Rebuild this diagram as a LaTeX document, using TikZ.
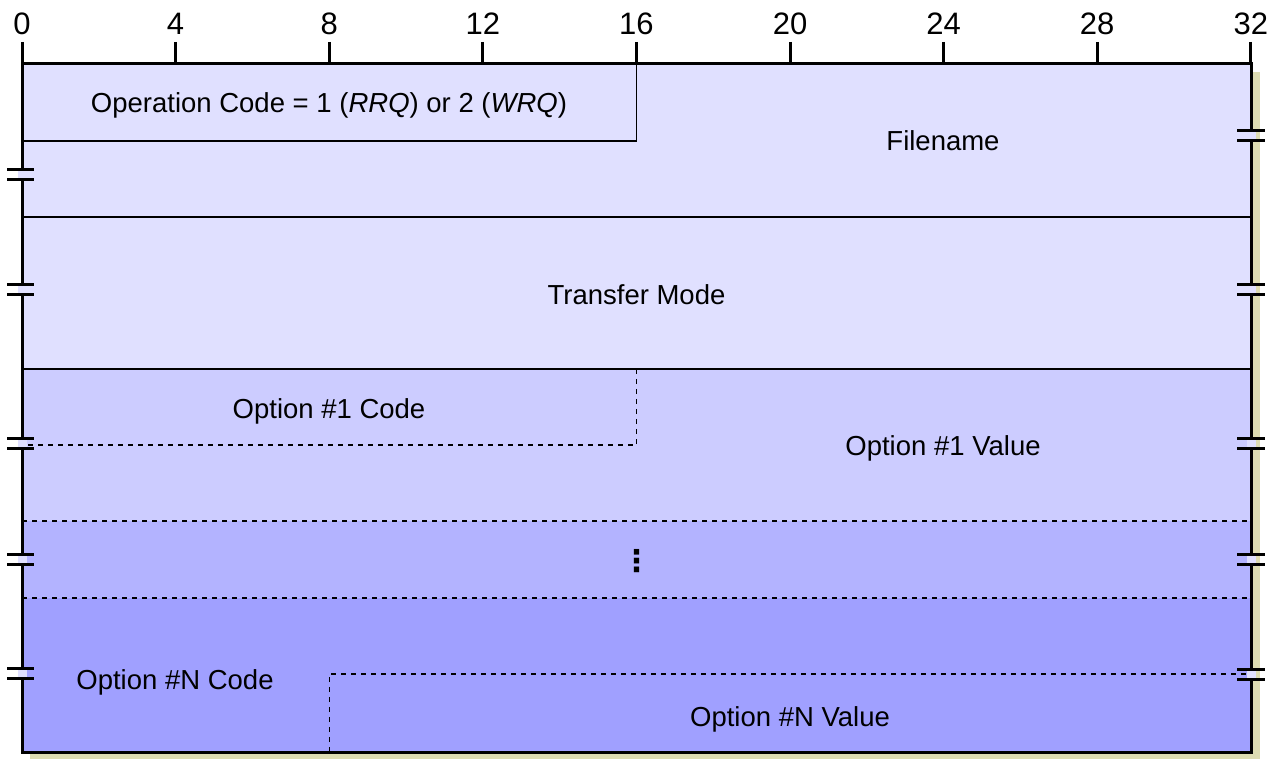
\documentclass[tikz,border=0pt]{standalone}
\usepackage{fontspec}
\setmainfont{Liberation Sans}
\newfontfamily\dejavu{DejaVu Sans}
\definecolor{rowA}{RGB}{224,224,255}
\definecolor{rowB}{RGB}{204,204,255}
\definecolor{rowC}{RGB}{179,179,255}
\definecolor{rowD}{RGB}{160,160,255}
\definecolor{shadowc}{RGB}{221,220,178}
\begin{document}
\begin{tikzpicture}[x=1pt,y=-1pt,
  font=\fontsize{27.5}{32}\selectfont,
  frameline/.style={line width=3pt},
  innerline/.style={line width=1.2pt},
  dashline/.style={line width=1.2pt,dash pattern=on 5pt off 5pt},
  lbl/.style={inner sep=0pt, anchor=base},
  bitlbl/.style={inner sep=0pt, anchor=base, font=\fontsize{31}{36}\selectfont},
  breakbar/.style={line width=3pt}]
\useasboundingbox (0,0) rectangle (1278,759);
% shadow
\fill[shadowc] (30,72) rectangle (1260,760);
% row fills
\fill[rowA] (22,64) rectangle (1251,369);
\fill[rowB] (22,369) rectangle (1251,521);
\fill[rowC] (22,521) rectangle (1251,598);
\fill[rowD] (22,598) rectangle (1251,752);
% inner lines
\draw[innerline] (22,141) -- (636.5,141) -- (636.5,64);
\draw[innerline] (22,217) -- (1251,217);
\draw[innerline] (22,369) -- (1251,369);
\draw[dashline] (636.5,369) -- (636.5,445) -- (22,445);
\draw[dashline] (22,521) -- (1251,521);
\draw[dashline] (22,598) -- (1251,598);
\draw[dashline] (329.2,752) -- (329.2,674) -- (1251,674);
% frame
\draw[frameline] (22,64) rectangle (1251,752);
% ticks and bit labels
\foreach \i in {0,4,...,32} {
  \draw[frameline] ({22+38.4*\i},42) -- ({22+38.4*\i},64);
  \node[bitlbl] (b\i) at ({22+38.4*\i},35) {\i};
}
% break marks left
\foreach \y in {175,290,443,559,673} {
  \fill[rowA] (18,\y-4) rectangle (26.5,\y+4);
  \draw[breakbar] (7,\y-5) -- (34,\y-5);
  \draw[breakbar] (7,\y+5) -- (34,\y+5);
}
% break marks right
\foreach \y in {136,290,443,559,674} {
  \fill[rowA] (1246.5,\y-4) rectangle (1255.5,\y+4);
  \draw[breakbar] (1237,\y-5) -- (1265,\y-5);
  \draw[breakbar] (1237,\y+5) -- (1265,\y+5);
}
% labels
\node[lbl] (opcode) at (329,113) {Operation Code = 1 (\textit{RRQ}) or 2 (\textit{WRQ})};
\node[lbl] (fname) at (943,151) {Filename};
\node[lbl] (mode) at (636.5,305) {Transfer Mode};
\node[lbl] (o1c) at (329,418) {Option \#1 Code};
\node[lbl] (o1v) at (943,456) {Option \#1 Value};
\node[inner sep=0pt] (dots) at (636.5,561.5) {\fontsize{30}{30}\selectfont\dejavu\bfseries ⋮};
\node[lbl] (onc) at (175,689) {Option \#N Code};
\node[lbl] (onv) at (790,726) {Option \#N Value};
\end{tikzpicture}
\end{document}
